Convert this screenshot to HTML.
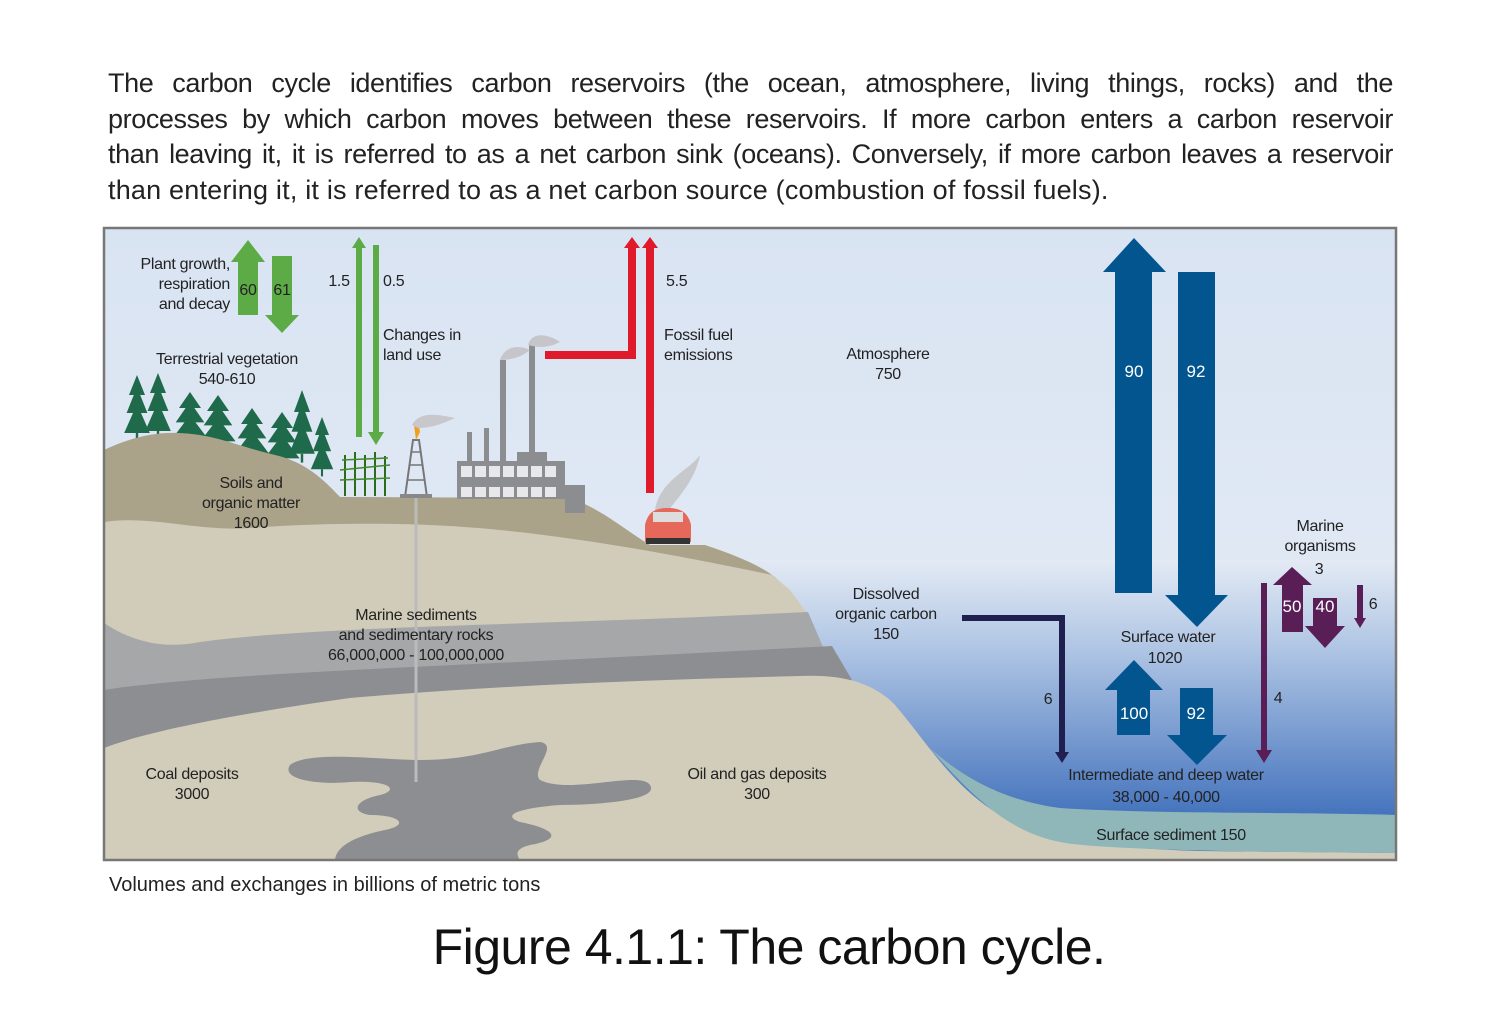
<!DOCTYPE html>
<html><head><meta charset="utf-8"><style>
html,body{margin:0;padding:0;background:#fff;}
body{width:1500px;height:1020px;position:relative;overflow:hidden;font-family:"Liberation Sans",sans-serif;}
#para{position:absolute;left:108px;top:66px;width:1285px;font-size:27px;line-height:35.5px;color:#222;letter-spacing:-0.4px;word-spacing:-1px;}
#para span{display:block;text-align:justify;text-align-last:justify;white-space:nowrap;}
#para span.l{text-align-last:left;letter-spacing:0.2px;word-spacing:0;}
</style></head><body>
<div id="para"><span>The carbon cycle identifies carbon reservoirs (the ocean, atmosphere, living things, rocks) and the</span><span>processes by which carbon moves between these reservoirs. If more carbon enters a carbon reservoir</span><span>than leaving it, it is referred to as a net carbon sink (oceans). Conversely, if more carbon leaves a reservoir</span><span class="l">than entering it, it is referred to as a net carbon source (combustion of fossil fuels).</span></div>
<svg width="1500" height="1020" style="position:absolute;left:0;top:0" font-family="Liberation Sans, sans-serif">
<defs>
<linearGradient id="sky" x1="0" y1="0" x2="0" y2="1"><stop offset="0" stop-color="#d9e4f3"/><stop offset="1" stop-color="#e6ecf4"/></linearGradient>
<linearGradient id="sea" x1="0" y1="560" x2="0" y2="815" gradientUnits="userSpaceOnUse"><stop offset="0" stop-color="#e3eaf4"/><stop offset="0.35" stop-color="#afc5e4"/><stop offset="1" stop-color="#4574bd"/></linearGradient>
<clipPath id="fr"><rect x="104" y="228" width="1292" height="632"/></clipPath>
<g id="tree"><polygon points="0,-50 10,-30 4,-30 13,-12 5,-12 16,8 -16,8 -5,-12 -13,-12 -4,-30 -10,-30"/><rect x="-1.5" y="8" width="3" height="8"/></g>
</defs>
<g clip-path="url(#fr)">
<rect x="104" y="228" width="1292" height="632" fill="url(#sky)"/>
<rect x="740" y="560" width="660" height="310" fill="url(#sea)"/>
<!-- trees -->
<g fill="#1f6a4a">
<use href="#tree" transform="translate(137,425) scale(0.8,1)"/>
<use href="#tree" transform="translate(158,423) scale(0.8,1)"/>
<use href="#tree" transform="translate(190,432) scale(1.1,0.8)"/>
<use href="#tree" transform="translate(218,435) scale(1.1,0.8)"/>
<use href="#tree" transform="translate(252,448) scale(1.1,0.8)"/>
<use href="#tree" transform="translate(282,452) scale(1.1,0.8)"/>
<use href="#tree" transform="translate(302,445) scale(0.8,1.1)"/>
<use href="#tree" transform="translate(322,462) scale(0.7,0.9)"/>
</g>
<!-- soil -->
<path d="M104,450 C125,440 150,432 178,433 C215,434 240,447 275,455 C305,462 322,478 340,497 L570,498 C600,508 625,530 650,545 L705,545 C735,555 760,565 776,578 L795,600 L104,600 Z" fill="#aaa38a"/>
<path d="M104,522 C150,515 200,532 250,528 C300,524 400,520 500,530 C600,540 700,560 772,575 L790,590 L806,612 L815,640 L830,670 L104,670 Z" fill="#d1ccb9"/>
<path d="M104,623 C130,640 160,650 200,642 C300,628 500,625 700,617 L808,612 L820,640 L832,668 L104,705 Z" fill="#a6a7a9"/>
<path d="M104,690 C200,675 400,668 600,658 L832,646 L852,680 L104,750 Z" fill="#8d8e92"/>
<path d="M104,748 C150,730 250,712 350,698 C500,685 650,680 800,676 C845,674 875,684 895,705 C925,740 945,775 985,805 C1025,835 1090,848 1200,851 L1397,853 L1397,861 L104,861 Z" fill="#d2cdba"/>
<path d="M930,748 C960,775 1000,800 1060,808 C1150,814 1300,812 1397,815 L1397,853 C1250,852 1100,850 1060,842 C1010,832 975,800 930,748 Z" fill="#8fb7b9"/>
<!-- oil blob -->
<path d="M290,765 C310,750 380,760 420,760 C480,760 500,745 540,742 C560,745 530,770 540,780 C570,795 640,770 650,785 C660,800 600,805 560,805 C520,808 500,815 520,822 C560,830 560,840 530,845 C510,850 520,858 520,861 L335,861 C335,845 360,835 385,830 C410,825 400,815 370,815 C350,812 355,800 380,795 C400,790 390,780 350,782 C320,785 280,780 290,765 Z" fill="#8d8e92"/>
<!-- corn -->
<g stroke="#2d6a1c" stroke-width="2"><line x1="345" y1="496" x2="345" y2="455"/><line x1="355" y1="496" x2="355" y2="452"/><line x1="365" y1="496" x2="365" y2="455"/><line x1="375" y1="496" x2="375" y2="452"/><line x1="385" y1="496" x2="385" y2="456"/></g>
<g stroke="#3f8a2a" stroke-width="1.5" fill="none"><path d="M340,470 L390,465 M340,480 L390,478 M342,460 L388,458"/></g>
<!-- derrick -->
<polygon points="405,497 413,440 419,440 427,497" fill="none" stroke="#777" stroke-width="2"/>
<path d="M408,480 L424,480 M410,465 L422,465 M411,452 L421,452" stroke="#777" stroke-width="1.5"/>
<rect x="400" y="494" width="32" height="4" fill="#888"/>
<path d="M416,440 L414,425 L418,420 L420,432 Z" fill="#f0a020"/>
<path d="M412,425 C420,410 440,415 455,418 C440,425 430,428 418,428 Z" fill="#c8c8cc"/>
<line x1="416" y1="498" x2="416" y2="782" stroke="#bbb" stroke-width="3"/>
<!-- factory -->
<g fill="#8c8d90"><rect x="467" y="432" width="5" height="30"/><rect x="484" y="428" width="5" height="34"/><rect x="500" y="360" width="6" height="102"/><rect x="529" y="345" width="6" height="107"/><rect x="517" y="452" width="30" height="10"/><rect x="457" y="461" width="108" height="38"/><rect x="565" y="485" width="20" height="28"/></g>
<g fill="#e8e8ea"><rect x="461" y="466" width="11" height="11"/><rect x="475" y="466" width="11" height="11"/><rect x="489" y="466" width="11" height="11"/><rect x="503" y="466" width="11" height="11"/><rect x="517" y="466" width="11" height="11"/><rect x="531" y="466" width="11" height="11"/><rect x="545" y="466" width="11" height="11"/><rect x="461" y="487" width="11" height="10"/><rect x="475" y="487" width="11" height="10"/><rect x="489" y="487" width="11" height="10"/><rect x="503" y="487" width="11" height="10"/><rect x="517" y="487" width="11" height="10"/><rect x="531" y="487" width="11" height="10"/><rect x="545" y="487" width="11" height="10"/></g>
<path d="M500,360 C505,345 520,345 530,350 C520,358 510,360 500,360Z M528,345 C532,330 550,335 560,342 C548,348 540,348 528,345Z" fill="#c6c6ca"/>
<path d="M655,510 C660,480 690,470 700,455 C695,480 680,495 665,515 Z" fill="#c6c8cc"/>
<!-- car -->
<path d="M645,542 L645,525 C648,512 655,508 668,508 C680,508 688,512 691,525 L691,542 Z" fill="#e6685a"/>
<rect x="653" y="512" width="30" height="10" fill="#ddd"/>
<rect x="646" y="538" width="44" height="6" fill="#333"/>
<!-- green arrows -->
<g fill="#5cab46">
<polygon points="238,315 258,315 258,262 265,262 248,240 231,262 238,262"/>
<polygon points="272,256 292,256 292,315 299,315 282,333 265,315 272,315"/>
<polygon points="356,437 362,437 362,248 366,248 359,237 352,248 356,248"/>
<polygon points="373,245 379,245 379,432 384,432 376,445 368,432 373,432"/>
</g>
<!-- red -->
<g fill="#e01a2a">
<polygon points="545,351 628,351 628,248 624,248 632,237 640,248 636,248 636,359 545,359"/>
<polygon points="646,493 654,493 654,248 658,248 650,237 642,248 646,248"/>
</g>
<!-- blue -->
<g fill="#03558f">
<polygon points="1115,593 1152,593 1152,272 1166,272 1134,238 1103,272 1115,272"/>
<polygon points="1178,272 1215,272 1215,595 1228,595 1197,627 1165,595 1178,595"/>
<polygon points="1117,735 1150,735 1150,690 1163,690 1134,660 1105,690 1117,690"/>
<polygon points="1180,688 1213,688 1213,735 1227,735 1197,765 1167,735 1180,735"/>
</g>
<polyline points="962,618 1062,618 1062,755" fill="none" stroke="#1f2050" stroke-width="6"/>
<polygon points="1055,752 1069,752 1062,763" fill="#1f2050"/>
<g fill="#5a1e56">
<rect x="1261" y="583" width="6" height="170"/><polygon points="1256,750 1272,750 1264,763"/>
<polygon points="1282,632 1303,632 1303,585 1312,585 1292,567 1273,585 1282,585"/>
<polygon points="1313,598 1337,598 1337,626 1345,626 1325,648 1305,626 1313,626"/>
<polygon points="1357,585 1363,585 1363,618 1366,618 1360,628 1354,618 1357,618"/>
</g>
<!-- labels -->
<g fill="#222" font-size="16" text-anchor="middle" letter-spacing="-0.3">
<text x="230" y="269" text-anchor="end">Plant growth,</text>
<text x="230" y="289" text-anchor="end">respiration</text>
<text x="230" y="309" text-anchor="end">and decay</text>
<text x="248" y="295">60</text><text x="282" y="295">61</text>
<text x="339" y="286">1.5</text><text x="383" y="286" text-anchor="start">0.5</text>
<text x="383" y="340" text-anchor="start">Changes in</text><text x="383" y="360" text-anchor="start">land use</text>
<text x="666" y="286" text-anchor="start">5.5</text>
<text x="664" y="340" text-anchor="start">Fossil fuel</text><text x="664" y="360" text-anchor="start">emissions</text>
<text x="227" y="364">Terrestrial vegetation</text><text x="227" y="384">540-610</text>
<text x="888" y="359">Atmosphere</text><text x="888" y="379">750</text>
<text x="251" y="488">Soils and</text><text x="251" y="508">organic matter</text><text x="251" y="528">1600</text>
<text x="416" y="620">Marine sediments</text><text x="416" y="640">and sedimentary rocks</text><text x="416" y="660">66,000,000 - 100,000,000</text>
<text x="192" y="779">Coal deposits</text><text x="192" y="799">3000</text>
<text x="757" y="779">Oil and gas deposits</text><text x="757" y="799">300</text>
<text x="886" y="599">Dissolved</text><text x="886" y="619">organic carbon</text><text x="886" y="639">150</text>
<text x="1048" y="704">6</text>
<text x="1168" y="642">Surface water</text><text x="1165" y="663">1020</text>
<text x="1320" y="531">Marine</text><text x="1320" y="551">organisms</text><text x="1319" y="574">3</text>
<text x="1373" y="609">6</text><text x="1278" y="703">4</text>
<text x="1166" y="780">Intermediate and deep water</text><text x="1166" y="802">38,000 - 40,000</text>
<text x="1171" y="840">Surface sediment 150</text>
</g>
<g fill="#fff" font-size="17" text-anchor="middle">
<text x="1134" y="377">90</text><text x="1196" y="377">92</text>
<text x="1134" y="719">100</text><text x="1196" y="719">92</text>
<text x="1292" y="612">50</text><text x="1325" y="612">40</text>
</g>
</g>
<rect x="104" y="228" width="1292" height="632" fill="none" stroke="#777" stroke-width="2.5"/>
<text x="109" y="891" font-size="20" fill="#222" letter-spacing="0">Volumes and exchanges in billions of metric tons</text>
<text x="769" y="964" font-size="50" fill="#111" text-anchor="middle" letter-spacing="-0.5">Figure 4.1.1: The carbon cycle.</text>
</svg>
</body></html>
